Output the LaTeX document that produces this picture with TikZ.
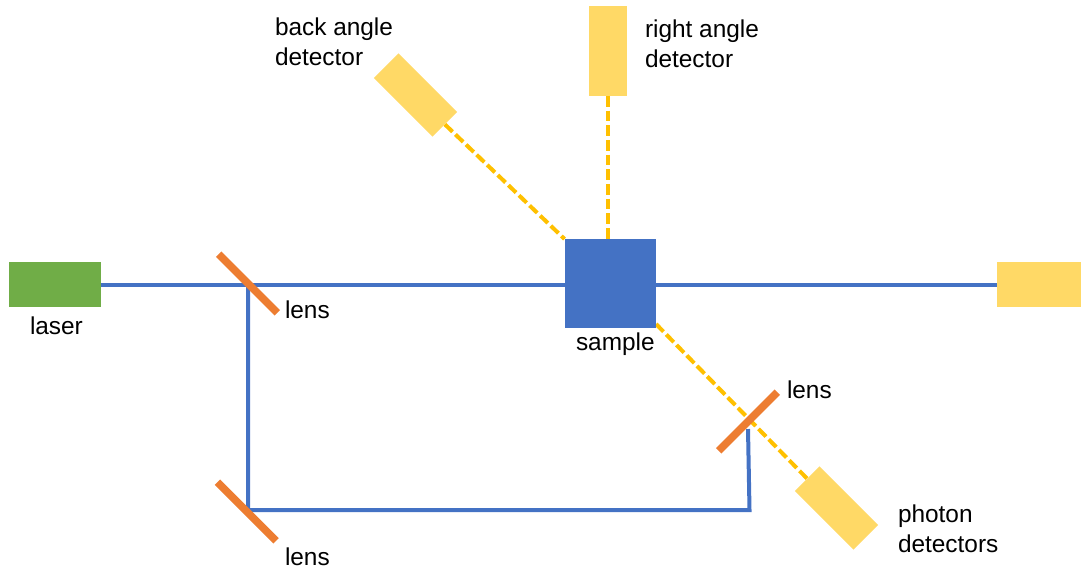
\documentclass[tikz,border=0pt]{standalone}
\usepackage{fontspec}
\setmainfont{Liberation Sans}
\usetikzlibrary{backgrounds}
\definecolor{cblue}{HTML}{4472C4}
\definecolor{corange}{HTML}{ED7D31}
\definecolor{cgreen}{HTML}{70AD47}
\definecolor{cyellow}{HTML}{FFD966}
\definecolor{cgold}{HTML}{FFC000}
\tikzset{
  box/.style={rectangle,inner sep=0pt,outer sep=0pt},
  detector/.style={box,fill=cyellow},
  angled/.style={detector,minimum width=62.25pt,minimum height=26.25pt,rotate=-45},
  lensbar/.style={box,fill=corange,minimum width=62.25pt,minimum height=5.8pt},
  beam/.style={cblue,line width=3pt},
  scatter/.style={cgold,line width=3pt,dash pattern=on 8pt off 3pt},
  label/.style={inner sep=0pt,outer sep=0pt,anchor=west,align=left,font=\fontsize{18.3}{22.5}\selectfont,text=black}
}
\begin{document}
\begin{tikzpicture}[x=0.75pt,y=-0.75pt]
\useasboundingbox (0,0) rectangle (1081,572);
\node[box,fill=cgreen,minimum width=69pt,minimum height=33.75pt] (laser) at (55,284.5) {};
\node[box,fill=cblue,minimum width=68.6pt,minimum height=66.75pt] (sample) at (610.25,283.5) {};
\node[detector,minimum width=63pt,minimum height=33.75pt] (dump) at (1039,284.5) {};
\node[detector,minimum width=28.5pt,minimum height=67.5pt] (rightdet) at (608,51) {};
\node[angled] (backdet) at (415.5,95) {};
\node[angled] (photondet) at (836.5,508) {};
\node[lensbar,rotate=-45] (lensa) at (248,283.5) {};
\node[lensbar,rotate=-45] (lensb) at (246.75,511.5) {};
\node[lensbar,rotate=45] (lensc) at (748,421.5) {};
\coordinate (ca) at (248,284.7);
\coordinate (cb) at (248,510);
\coordinate (cc) at (749.5,510);
\coordinate (cd) at (748,429);
\coordinate (se) at (656,324);
\begin{scope}[on background layer]
\draw[beam] (laser.east) -- (laser.east -| sample.west);
\draw[beam] (laser.east -| sample.east) -- (laser.east -| dump.west);
\draw[beam] (ca) -- (cb) -- (cc) -- (cd);
\draw[scatter] (backdet.east) -- (sample.north west);
\draw[scatter] (rightdet.south) -- (rightdet.south |- sample.north);
\draw[scatter] (se) -- (photondet.west);
\end{scope}
\node[label] (tback) at (275,42) {back angle\\detector};
\node[label] (tright) at (645,44) {right angle\\detector};
\node[label] (tlaser) at (30,326) {laser};
\node[label] (tlensa) at (285,310) {lens};
\node[label] (tlensb) at (285,557) {lens};
\node[label] (tlensc) at (787,390) {lens};
\node[label] (tsample) at (576,344) {sample};
\node[label] (tphoton) at (898,529) {photon\\detectors};
\end{tikzpicture}
\end{document}
